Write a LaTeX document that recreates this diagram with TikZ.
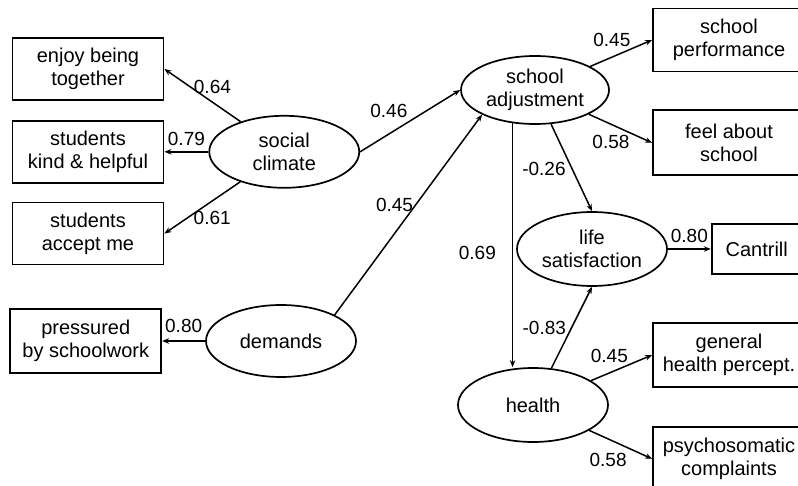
\documentclass[tikz,border=0pt]{standalone}
\usepackage{fontspec}
\setmainfont{Liberation Sans}
\usetikzlibrary{arrows.meta, positioning, shapes.geometric}
\tikzset{
    latent/.style={ellipse, draw, line width=1.7pt, inner sep=0pt, minimum width=150pt, minimum height=72pt, align=center},
    observed/.style={rectangle, draw, line width=1.8pt, inner sep=0pt, minimum width=151pt, minimum height=62pt, align=center},
    coef/.style={font=\fontsize{19}{22}\selectfont, inner sep=2pt},
}

\begin{document}
\begin{tikzpicture}[x=1pt, y=-1pt, line width=1.5pt]
    \tikzset{
      ->,
      >={Stealth[length=7pt, width=5.5pt]},
      node distance=19pt,
      font=\fontsize{20}{23}\selectfont
    }
    \useasboundingbox (0,0) rectangle (798,486);

    \node[observed] (enjoy) at (88,69) {enjoy being\\together};
    \node[observed, below=of enjoy] (kind) {students\\kind \& helpful};
    \node[observed, below=18pt of kind] (accept) {students\\accept me};

    \node[latent, right=44pt of kind] (social) {social\\climate};
    \node[latent] (demands) at (281,341) {demands};
    \node[observed, minimum height=64pt, left=43pt of demands] (pressured) {pressured\\by schoolwork};

    \node[latent, minimum width=148pt, minimum height=68pt] (schooladj) at (535,90) {school\\adjustment};
    \node[latent, minimum height=74pt] (life) at (592,249) {life\\satisfaction};
    \node[latent, minimum height=74pt] (health) at (533,405) {health};

    \node[observed, minimum width=152pt, minimum height=63pt] (perf) at (729,40) {school\\performance};
    \node[observed, minimum width=152pt, minimum height=65pt, below=37pt of perf] (feel) {feel about\\school};
    \node[observed, minimum width=90pt, minimum height=50pt, right=43pt of life] (cantrill) {Cantrill};
    \node[observed, minimum width=152pt, minimum height=64pt] (general) at (729,355) {general\\health percept.};
    \node[observed, minimum width=152pt, minimum height=64pt, below=38pt of general] (psycho) {psychosomatic\\complaints};

    \draw (social) edge node[coef, pos=0.37, above=6pt] {0.64} (enjoy.east)
          edge node[coef, above=3pt] {0.79} (kind)
          edge node[coef, pos=0.37, below=8pt] {0.61} (accept.east);
    \draw (social.east) -- node[coef, above left] {0.46} (schooladj.west);
    \draw (demands.north east) -- node[coef, pos=0.55, left] {0.45} (schooladj.south west);
    \draw (demands) -- node[coef, above=6pt] {0.80} (pressured);

    \draw (schooladj) edge node[coef, pos=0.35, above=8pt] {0.45} (perf.west)
          edge node[coef, pos=0.35, below=8pt] {0.58} (feel.west)
          edge node[coef, pos=0.52, left=4pt] {-0.26} (life.north);
    \draw (schooladj.236) -- node[coef, pos=0.53, left=14pt] {0.69} (schooladj.236 |- health.north);
    \draw (life) -- node[coef, above=4pt] {0.80} (cantrill);
    \draw (health) edge node[coef, pos=0.5, left=3pt] {-0.83} (life.south)
          edge node[coef, pos=0.3, above=8pt] {0.45} (general.west)
          edge node[coef, pos=0.3, below=12pt] {0.58} (psycho.west);
\end{tikzpicture}
\end{document}
